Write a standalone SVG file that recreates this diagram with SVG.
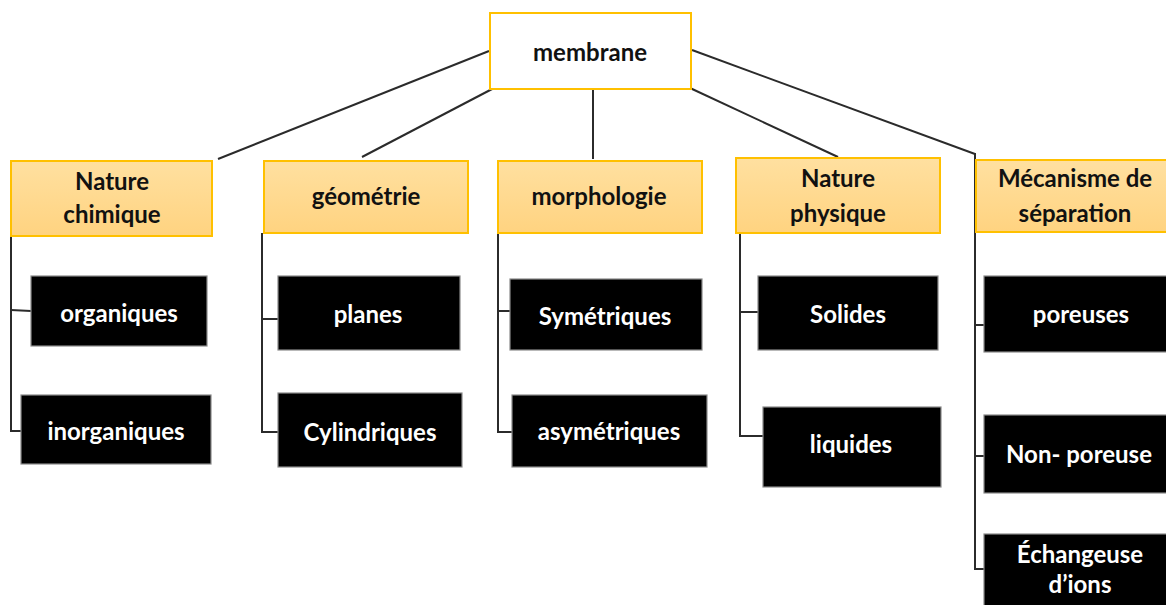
<svg xmlns="http://www.w3.org/2000/svg" width="1166" height="605" viewBox="0 0 1166 605">
<defs>
<linearGradient id="yg" x1="0" y1="0" x2="0" y2="1">
<stop offset="0" stop-color="#ffe0a0"/>
<stop offset="1" stop-color="#ffd380"/>
</linearGradient>
</defs>
<style>
.root{fill:#fff;stroke:#ffc000;stroke-width:2}
.cat{fill:url(#yg);stroke:#ffc000;stroke-width:2}
.leaf{fill:#000;stroke:#8a8a8a;stroke-width:1.2}
.t{font-family:Lato,"Liberation Sans",sans-serif;font-weight:bold;font-size:24px;text-anchor:middle}
.dk{fill:#111}
.wt{fill:#fff}
.ln{stroke:#2b2b2b;stroke-width:2;fill:none}
</style>
<g id="connectors">
<line class="ln" x1="489" y1="51" x2="218" y2="159"/>
<line class="ln" x1="494" y1="88" x2="362" y2="157"/>
<line class="ln" x1="593" y1="90" x2="593" y2="159"/>
<line class="ln" x1="690" y1="88" x2="838" y2="157"/>
<line class="ln" x1="692" y1="50" x2="975" y2="154"/>
<polyline class="ln" points="11,228 11,431 21,431"/>
<line class="ln" x1="11" y1="310" x2="31" y2="311"/>
<polyline class="ln" points="262,233 262,432 278,432"/>
<line class="ln" x1="262" y1="319" x2="278" y2="319"/>
<polyline class="ln" points="498,233 498,432 512,432"/>
<line class="ln" x1="498" y1="311" x2="510" y2="311"/>
<polyline class="ln" points="740,233 740,436 763,436"/>
<line class="ln" x1="740" y1="312" x2="758" y2="312"/>
<polyline class="ln" points="975,153 975,569 984,569"/>
<line class="ln" x1="975" y1="325" x2="984" y2="325"/>
<line class="ln" x1="975" y1="456" x2="984" y2="456"/>
</g>
<g id="membrane"><rect class="root" x="490" y="13" width="201" height="76"/><text class="t dk" x="590" y="61">membrane</text></g>
<g id="nature-chimique"><rect class="cat" x="11" y="161" width="201" height="75"/><text class="t dk" x="112" y="190">Nature</text><text class="t dk" x="112" y="223">chimique</text></g>
<g id="geometrie"><rect class="cat" x="264" y="161" width="204" height="72"/><text class="t dk" x="366" y="205">géométrie</text></g>
<g id="morphologie"><rect class="cat" x="498" y="161" width="204" height="72"/><text class="t dk" x="599" y="205">morphologie</text></g>
<g id="nature-physique"><rect class="cat" x="736" y="158" width="204" height="75"/><text class="t dk" x="838" y="187">Nature</text><text class="t dk" x="838" y="222">physique</text></g>
<g id="mecanisme"><rect class="cat" x="976" y="160" width="200" height="72"/><text class="t dk" x="1075" y="187">Mécanisme de</text><text class="t dk" x="1075" y="222">séparation</text></g>
<g id="organiques"><rect class="leaf" x="31" y="276" width="176" height="70"/><text class="t wt" x="119" y="322">organiques</text></g>
<g id="inorganiques"><rect class="leaf" x="21" y="395" width="190" height="69"/><text class="t wt" x="116" y="440">inorganiques</text></g>
<g id="planes"><rect class="leaf" x="278" y="276" width="182" height="74"/><text class="t wt" x="368" y="323">planes</text></g>
<g id="cylindriques"><rect class="leaf" x="278" y="393" width="184" height="74"/><text class="t wt" x="370" y="441">Cylindriques</text></g>
<g id="symetriques"><rect class="leaf" x="510" y="279" width="192" height="71"/><text class="t wt" x="605" y="325">Symétriques</text></g>
<g id="asymetriques"><rect class="leaf" x="512" y="395" width="195" height="72"/><text class="t wt" x="609" y="440">asymétriques</text></g>
<g id="solides"><rect class="leaf" x="758" y="276" width="180" height="74"/><text class="t wt" x="848" y="323">Solides</text></g>
<g id="liquides"><rect class="leaf" x="763" y="407" width="178" height="80"/><text class="t wt" x="851" y="453">liquides</text></g>
<g id="poreuses"><rect class="leaf" x="984" y="276" width="194" height="76"/><text class="t wt" x="1081" y="323">poreuses</text></g>
<g id="non-poreuse"><rect class="leaf" x="984" y="415" width="194" height="78"/><text class="t wt" x="1079" y="463">Non- poreuse</text></g>
<g id="echangeuse"><rect class="leaf" x="984" y="534" width="194" height="80"/><text class="t wt" x="1080" y="563">Échangeuse</text><text class="t wt" x="1080" y="593">d’ions</text></g>
</svg>
